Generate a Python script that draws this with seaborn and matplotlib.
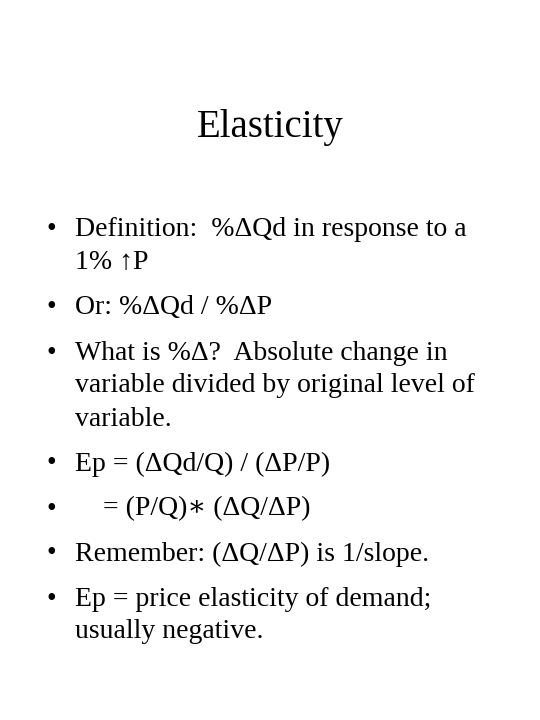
import matplotlib
matplotlib.use('Agg')
import matplotlib.pyplot as plt
import seaborn as sns

sns.set_theme(style='white')
plt.rcParams['font.family'] = ['Liberation Serif', 'DejaVu Serif']
plt.rcParams['text.color'] = 'black'

title = 'Elasticity'
# each bullet is a list of wrapped lines
bullets = [
    ['Definition:  %ΔQd in response to a', '1% ↑P'],
    ['Or: %ΔQd / %ΔP'],
    ['What is %Δ?  Absolute change in', 'variable divided by original level of', 'variable.'],
    ['Ep = (ΔQd/Q) / (ΔP/P)'],
    ['    = (P/Q)∗ (ΔQ/ΔP)'],
    ['Remember: (ΔQ/ΔP) is 1/slope.'],
    ['Ep = price elasticity of demand;', 'usually negative.'],
]

fig = plt.figure(figsize=(5.4, 7.2), dpi=100)
ax = fig.add_axes([0, 0, 1, 1])
ax.set_xlim(0, 540)
ax.set_ylim(720, 0)
ax.axis('off')

ax.text(270, 128, title, ha='center', va='center', fontsize=28, color='black')

y = 230
for lines in bullets:
    ax.text(46, y, '•', ha='left', va='center', fontsize=20, color='black')
    for i, line in enumerate(lines):
        ax.text(75, y + i * 33, line, ha='left', va='center', fontsize=20, color='black')
    y += (len(lines) - 1) * 33 + 45

fig.savefig('out.png', dpi=100)
